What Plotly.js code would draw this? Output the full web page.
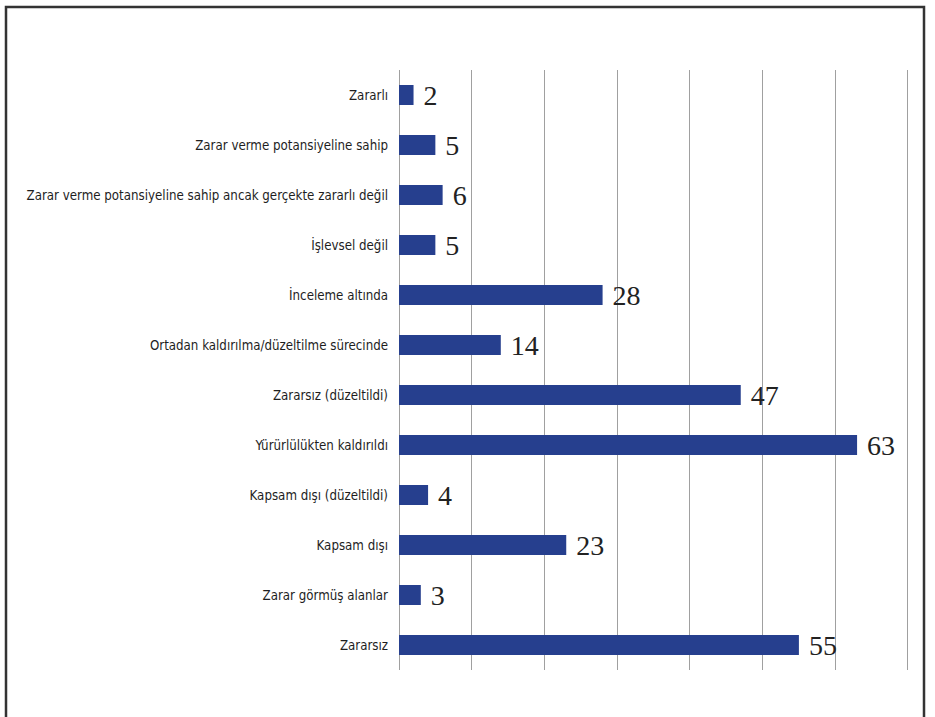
<!DOCTYPE html>
<html>
<head>
<meta charset="utf-8">
<script src="https://cdn.plot.ly/plotly-3.0.1.min.js"></script>
<style>
html,body{margin:0;padding:0;background:#fff;}
#chart{width:935px;height:717px;}
</style>
</head>
<body>
<div id="chart"></div>
<script>
const categories = [
  "Zararlı",
  "Zarar verme potansiyeline sahip",
  "Zarar verme potansiyeline sahip ancak gerçekte zararlı değil",
  "İşlevsel değil",
  "İnceleme altında",
  "Ortadan kaldırılma/düzeltilme sürecinde",
  "Zararsız (düzeltildi)",
  "Yürürlülükten kaldırıldı",
  "Kapsam dışı (düzeltildi)",
  "Kapsam dışı",
  "Zarar görmüş alanlar",
  "Zararsız"
];
const values = [2, 5, 6, 5, 28, 14, 47, 63, 4, 23, 3, 55];
const gridTicks = [0, 10, 20, 30, 40, 50, 60, 70];

const L = 399, R = 909, T = 70, B = 670;
const W = 935, H = 717;
function px2x(p){ return (p - L) / (R - L); }
function py2y(p){ return (B - p) / (B - T); }

const trace = {
  type: 'bar',
  orientation: 'h',
  y: categories,
  x: values,
  texttemplate: '\u00a0%{x}',
  textposition: 'outside',
  constraintext: 'none',
  cliponaxis: false,
  textfont: {family: '"Liberation Serif", "Times New Roman", serif', size: 28, color: '#222'},
  marker: {color: '#263f8e'},
  width: 0.4,
  hoverinfo: 'skip'
};

const layout = {
  width: W, height: H,
  margin: {l: L, r: W - R, t: T, b: H - B, pad: 0},
  paper_bgcolor: '#fff',
  plot_bgcolor: '#fff',
  showlegend: false,
  xaxis: {
    range: [0, 70.14],
    tickvals: gridTicks,
    showticklabels: false,
    showgrid: true,
    gridcolor: '#a0a0a0',
    gridwidth: 1,
    zeroline: true,
    zerolinecolor: '#a0a0a0',
    zerolinewidth: 1,
    showline: false,
    ticks: '',
    fixedrange: true
  },
  yaxis: {
    autorange: 'reversed',
    type: 'category',
    showgrid: false,
    zeroline: false,
    showline: false,
    ticks: '',
    ticklabelstandoff: 10,
    tickfont: {family: '"DejaVu Sans Condensed", "Liberation Sans Narrow", sans-serif', size: 13.2, color: '#1e1e1e'},
    fixedrange: true
  },
  shapes: [{
    type: 'rect', xref: 'paper', yref: 'paper',
    x0: px2x(6), x1: px2x(924), y0: py2y(730), y1: py2y(7),
    line: {color: '#333', width: 2.5},
    fillcolor: 'rgba(0,0,0,0)',
    layer: 'above'
  }]
};

Plotly.newPlot('chart', [trace], layout, {displayModeBar: false, staticPlot: true});
</script>
</body>
</html>
